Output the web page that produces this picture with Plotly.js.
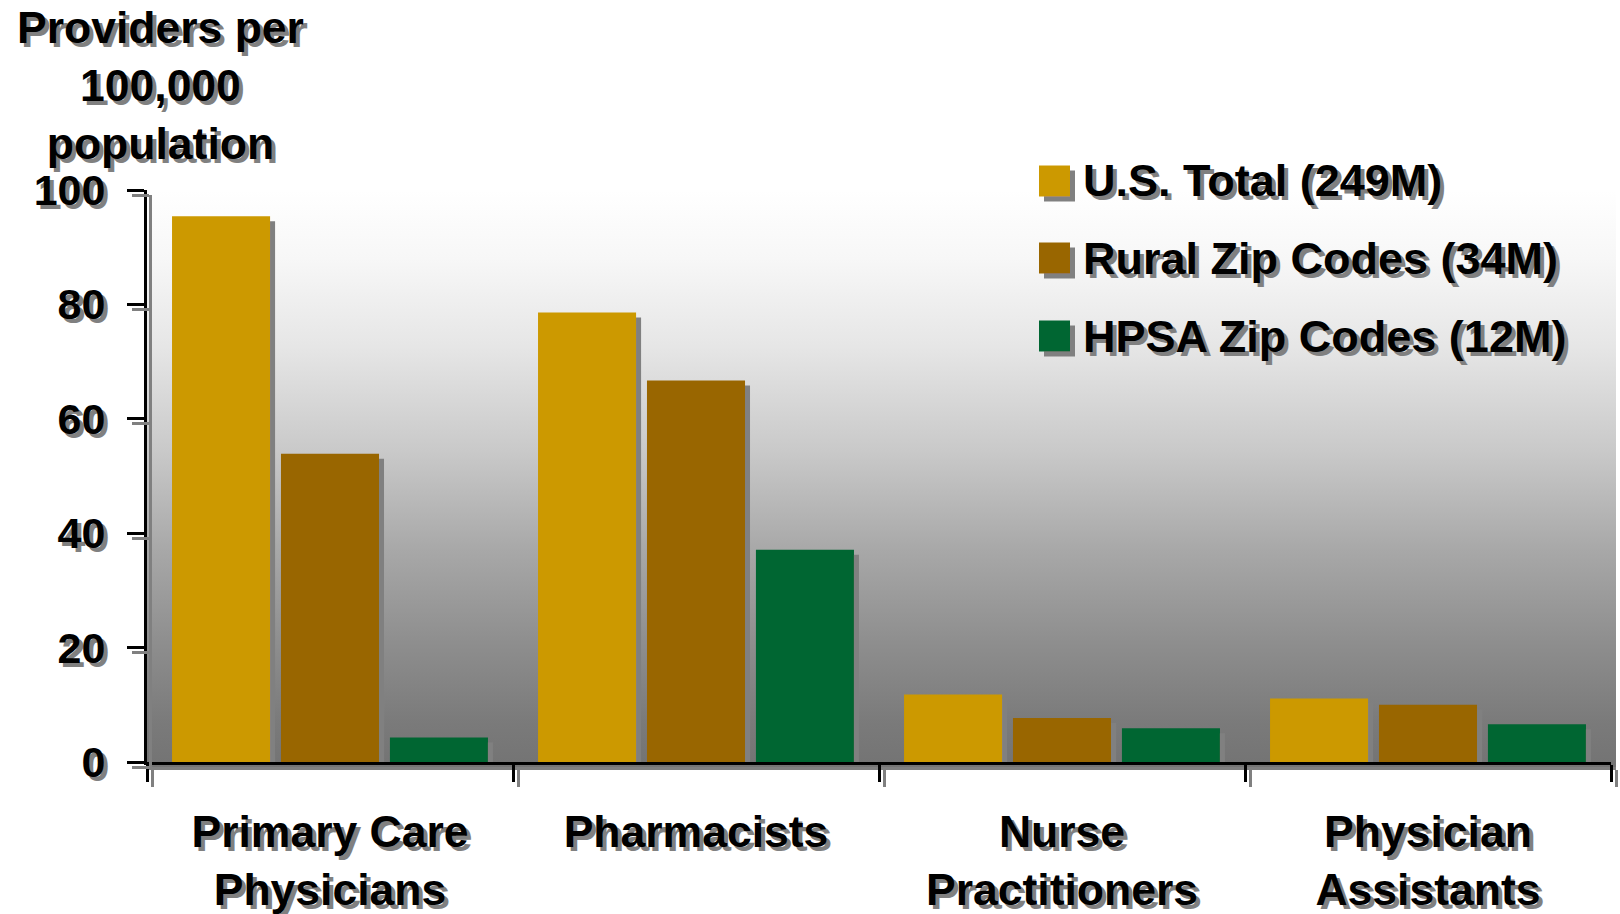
<!DOCTYPE html>
<html>
<head>
<meta charset="utf-8">
<script src="https://cdn.plot.ly/plotly-3.0.1.min.js"></script>
<style>
  html, body { margin: 0; padding: 0; background: #ffffff; }
  #wrap { position: relative; width: 1620px; height: 914px; overflow: hidden; }
  #bg { position: absolute; left: 147px; top: 190px; width: 1469px; height: 580px;
        background: linear-gradient(to bottom, #ffffff 0%, #f7f7f7 12%, #e6e6e6 27%, #c9c9c9 45%, #a8a8a8 62%, #8e8e8e 78%, #7a7a7a 92%, #737373 100%); }
  #chart { position: absolute; left: 0; top: 0; width: 1620px; height: 914px; }
  .barlayer, .shapelayer path, path.xlines-above, path.ylines-above,
  .xaxislayer-above path, .yaxislayer-above path { filter: url(#ds); }
</style>
</head>
<body>
<svg width="0" height="0" style="position:absolute">
  <defs>
    <filter id="ds" filterUnits="userSpaceOnUse" x="-3000" y="-3000" width="9000" height="9000">
      <feOffset in="SourceAlpha" dx="5" dy="5" result="o"/>
      <feFlood flood-color="#808080" result="c"/>
      <feComposite in="c" in2="o" operator="in" result="s"/>
      <feMerge><feMergeNode in="s"/><feMergeNode in="SourceGraphic"/></feMerge>
    </filter>
  </defs>
</svg>
<div id="wrap"><div id="bg"></div><div id="chart"></div></div>
<script>
// ---- data ----
const categories = ["Primary Care<br>Physicians", "Pharmacists", "Nurse<br>Practitioners", "Physician<br>Assistants"];
const seriesNames = ["U.S. Total (249M)", "Rural Zip Codes (34M)", "HPSA Zip Codes (12M)"];
const usTotal = [95.4, 78.6, 11.8, 11.1];
const ruralZip = [53.9, 66.7, 7.7, 10.0];
const hpsaZip = [4.3, 37.1, 5.9, 6.6];
const seriesColors = ["#CC9900", "#996600", "#006633"];
const yTickVals = [0, 20, 40, 60, 80, 100];
const yTitle = "Providers per<br>100,000<br>population";

// ---- layout geometry ----
const L = 147, T = 190, PW = 1464, PH = 572;
const px = v => (v - L) / PW;
const py = v => (T + PH - v) / PH;
const SH = "4px 4px 0px #808080";
const FONT = "Liberation Sans, Arial, sans-serif";

const values = [usTotal, ruralZip, hpsaZip];
const traces = values.map((vals, i) => ({
  type: "bar",
  x: categories,
  y: vals,
  name: seriesNames[i],
  marker: { color: seriesColors[i], line: { width: 0 } },
  hoverinfo: "skip",
  showlegend: false
}));

const legendRows = [181, 258, 336];
const shapes = seriesColors.map((c, i) => ({
  type: "rect", xref: "paper", yref: "paper",
  x0: px(1039), x1: px(1070), y0: py(legendRows[i] + 15.5), y1: py(legendRows[i] - 15.5),
  fillcolor: c, line: { width: 0 }
}));

const annotations = seriesNames.map((n, i) => ({
  xref: "paper", yref: "paper", x: px(1081), y: py(legendRows[i]),
  xanchor: "left", yanchor: "middle", showarrow: false, text: n,
  font: { family: FONT, size: 45, weight: "bold", color: "#000", shadow: SH }
}));
annotations.push({
  xref: "paper", yref: "paper", x: px(160), y: py(1),
  xanchor: "center", yanchor: "top", align: "center", showarrow: false, text: yTitle,
  font: { family: FONT, size: 44.5, weight: "bold", color: "#000", shadow: SH }
});

const layout = {
  width: 1620, height: 914,
  margin: { l: L, r: 1620 - L - PW, t: T, b: 914 - T - PH, pad: 0 },
  paper_bgcolor: "rgba(0,0,0,0)",
  plot_bgcolor: "rgba(0,0,0,0)",
  barmode: "group",
  bargap: 0.107,
  bargroupgap: 0.10,
  showlegend: false,
  xaxis: {
    type: "category",
    tickson: "boundaries",
    ticks: "outside", ticklen: 17, tickwidth: 3, tickcolor: "#000",
    showline: true, linewidth: 3, linecolor: "#000",
    showgrid: false, zeroline: false,
    ticklabelstandoff: 29,
    tickfont: { family: FONT, size: 44.5, weight: "bold", color: "#000", shadow: SH }
  },
  yaxis: {
    range: [0, 100],
    tickvals: yTickVals,
    ticks: "outside", ticklen: 17, tickwidth: 3, tickcolor: "#000",
    showline: true, linewidth: 3, linecolor: "#000",
    showgrid: false, zeroline: false,
    ticklabelstandoff: 13,
    tickfont: { family: FONT, size: 43, weight: "bold", color: "#000", shadow: SH }
  },
  shapes: shapes,
  annotations: annotations,
  font: { family: FONT }
};

Plotly.newPlot("chart", traces, layout, { displayModeBar: false, staticPlot: true });
</script>
</body>
</html>
